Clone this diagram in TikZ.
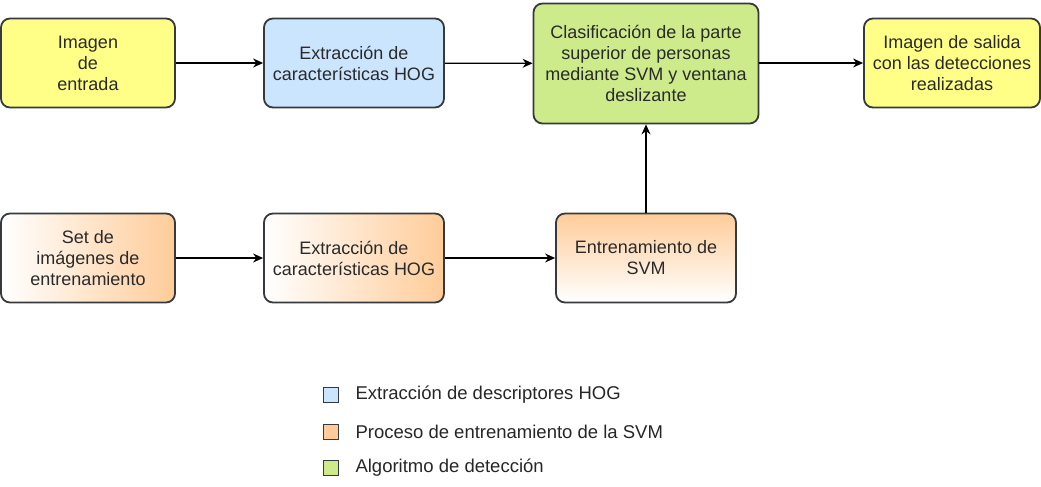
\documentclass[tikz,border=0pt]{standalone}
\usepackage{fontspec}
\setmainfont{Liberation Sans}
\usetikzlibrary{arrows.meta}
\definecolor{stroke}{HTML}{36393D}
\definecolor{txt}{HTML}{2A2A2A}
\definecolor{yel}{HTML}{FFFF88}
\definecolor{blu}{HTML}{CCE5FF}
\definecolor{grn}{HTML}{CDEB8B}
\definecolor{org}{HTML}{FFCC99}
\begin{document}
\begin{tikzpicture}[x=1pt,y=-1pt,
  box/.style={draw=stroke,line width=1.8pt,rounded corners=9pt,align=center,
    text=txt,font=\fontsize{18}{21}\selectfont,inner sep=0pt},
  arr/.style={-{Stealth[length=10pt,width=9pt]},line width=1.2pt,black},
  leg/.style={draw=stroke,line width=0.9pt,minimum size=15pt,inner sep=0pt},
  legtxt/.style={anchor=west,text=black!85,font=\fontsize{18.5}{21}\selectfont}]
\useasboundingbox (0,0) rectangle (1041,487);
% top row
\node[box,fill=yel,minimum width=174pt,minimum height=89pt] (in) at (88,63) {Imagen\\de\\entrada};
\node[box,fill=blu,minimum width=180pt,minimum height=89pt] (hog1) at (354,63) {Extracción de\\características HOG};
\node[box,fill=grn,minimum width=225pt,minimum height=120pt] (cls) at (646,63.5) {Clasificación de la parte\\superior de personas\\mediante SVM y ventana\\deslizante};
\node[box,fill=yel,minimum width=176pt,minimum height=89pt] (out) at (952,63) {Imagen de salida\\con las detecciones\\realizadas};
% bottom row
\node[box,left color=white,right color=org,minimum width=174pt,minimum height=89pt] (set) at (88,258) {Set de\\imágenes de\\entrenamiento};
\node[box,left color=white,right color=org,minimum width=180pt,minimum height=89pt] (hog2) at (354,258) {Extracción de\\características HOG};
\node[box,top color=org,bottom color=white,minimum width=180pt,minimum height=89pt] (svm) at (646,258) {Entrenamiento de\\SVM};
% arrows
\draw[arr] (in) -- (hog1);
\draw[arr] (hog1) -- (cls);
\draw[arr] (cls.east |- out) -- (out);
\draw[arr] (set) -- (hog2);
\draw[arr] (hog2) -- (svm);
\draw[arr] (svm) -- (cls);
% legend
\node[leg,fill=blu] (l1) at (331,395) {};
\node[leg,fill=org] (l2) at (331,431.5) {};
\node[leg,fill=grn] (l3) at (331,468) {};
\node[legtxt] (t1) at (352,395) {Extracción de descriptores HOG};
\node[legtxt] (t2) at (352,431.5) {Proceso de entrenamiento de la SVM};
\node[legtxt] (t3) at (352,468) {Algoritmo de detección};
\end{tikzpicture}
\end{document}
